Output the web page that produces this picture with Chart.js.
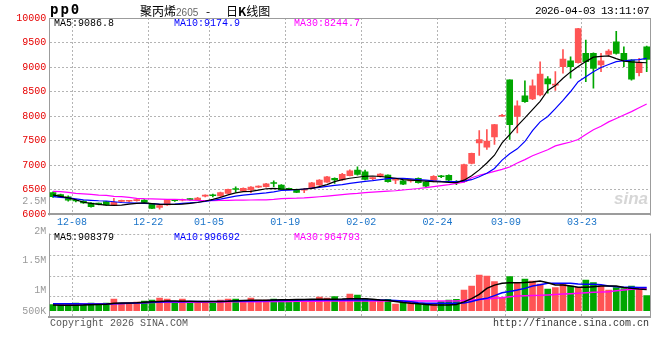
<!DOCTYPE html>
<html>
<head>
<meta charset="utf-8">
<script src="https://cdn.jsdelivr.net/npm/chart.js@4.4.1/dist/chart.umd.min.js"></script>
<style>
body { margin: 0; background: #fff; }
#wrap { position: relative; width: 660px; height: 360px; overflow: hidden; font-family: "Liberation Mono", monospace; font-size: 10px; }
#wrap canvas { position: absolute; left: 0; top: 0; }
.t { position: absolute; white-space: nowrap; line-height: 12px; }
</style>
</head>
<body>
<div id="wrap">
  <canvas id="volume" width="660" height="360"></canvas>
  <canvas id="price" width="660" height="360"></canvas>

  <div class="t" style="left:50px;top:2px;font:bold 14px 'DejaVu Sans Mono';letter-spacing:2px;line-height:14px">pp0</div>
  <div class="t" style="left:140px;top:4px;font-size:12px;line-height:13px;font-family:'Noto Sans CJK SC'">聚丙烯<span style="font:10px 'Liberation Sans';color:#666">2605</span></div>
  <div class="t" style="left:206px;top:4px;font-size:12px;line-height:13px;font-family:'Noto Sans CJK SC'">-</div>
  <div class="t" style="left:226px;top:4px;font-size:12px;line-height:13px;font-family:'Noto Sans CJK SC'">日<b>K</b>线图</div>
  <div class="t" style="left:535px;top:5px;font-size:11px;letter-spacing:-0.6px">2026-04-03 13:11:07</div>

  <div class="t" style="left:54px;top:18px;color:#000">MA5:9086.8</div>
  <div class="t" style="left:174px;top:18px;color:#0000ff">MA10:9174.9</div>
  <div class="t" style="left:294px;top:18px;color:#ff00ff">MA30:8244.7</div>

  <div class="t" style="left:54px;top:232px;color:#000">MA5:908379</div>
  <div class="t" style="left:174px;top:232px;color:#0000ff">MA10:996692</div>
  <div class="t" style="left:294px;top:232px;color:#ff00ff">MA30:964793</div>

  <div class="t" style="left:614px;top:190px;font:italic bold 17px 'Liberation Sans';color:#d6d6d6;line-height:17px">sina</div>

  <div class="t" style="left:50px;top:318px;color:#555">Copyright 2026 SINA.COM</div>
  <div class="t" style="left:493px;top:318px;color:#333">http://finance.sina.com.cn</div>
</div>

<script>
// trading days shown on the chart
const dates = [
  '12-03','12-04','12-05','12-08','12-09','12-10','12-11','12-12','12-15','12-16',
  '12-17','12-18','12-19','12-22','12-23','12-24','12-25','12-26','12-29','12-30',
  '12-31','01-05','01-06','01-07','01-08','01-09','01-12','01-13','01-14','01-15',
  '01-16','01-19','01-20','01-21','01-22','01-23','01-26','01-27','01-28','01-29',
  '01-30','02-02','02-03','02-04','02-05','02-06','02-09','02-10','02-11','02-12',
  '02-13','02-24','02-25','02-26','02-27','03-02','03-03','03-04','03-05','03-06',
  '03-09','03-10','03-11','03-12','03-13','03-16','03-17','03-18','03-19','03-20',
  '03-23','03-24','03-25','03-26','03-27','03-30','03-31','04-01','04-02'
];
// days that get a label and a grid line
const tickDays = ['12-08', '12-22', '01-05', '01-19', '02-02', '02-24', '03-09', '03-23'];

const open = [
  6435,6395,6350,6272,6266,6225,6205,6252,6178,6258,
  6260,6272,6286,6211,6136,6185,6280,6280,6300,6290,
  6365,6380,6367,6421,6510,6470,6489,6550,6557,6630,
  6590,6523,6503,6485,6523,6591,6652,6727,6693,6781,
  6896,6863,6722,6760,6795,6690,6679,6675,6727,6652,
  6665,6765,6790,6650,6660,7030,7453,7365,7574,7995,
  8736,7993,8412,8351,8432,8757,8630,9007,9128,9088,
  9277,9277,9040,9257,9514,9277,9142,8885,9412
];
const high = [
  6450,6405,6370,6300,6272,6235,6225,6260,6320,6285,
  6280,6300,6295,6220,6175,6300,6300,6305,6315,6340,
  6390,6405,6445,6510,6556,6535,6560,6575,6625,6679,
  6600,6530,6510,6523,6645,6700,6770,6740,6830,6900,
  6964,6896,6745,6825,6800,6706,6690,6700,6740,6660,
  6785,6790,6800,6680,7020,7245,7703,7723,7830,8035,
  8740,8310,8716,8736,9108,8804,8905,9358,9210,9790,
  9547,9290,9277,9358,9730,9412,9150,9176,9426
];
const low = [
  6340,6340,6260,6245,6215,6140,6185,6175,6170,6245,
  6246,6260,6225,6110,6100,6175,6255,6265,6280,6280,
  6350,6350,6360,6415,6445,6460,6435,6535,6550,6557,
  6480,6495,6435,6435,6515,6585,6645,6625,6685,6775,
  6795,6693,6700,6750,6650,6618,6600,6650,6630,6550,
  6655,6740,6650,6600,6645,7020,7196,7318,7419,7990,
  7520,7655,8277,8331,8412,8466,8520,8872,8770,9080,
  8703,8568,8905,9223,9260,9007,8730,8818,8905
];
const close = [
  6355,6350,6280,6266,6225,6150,6200,6184,6240,6266,
  6268,6280,6235,6116,6170,6290,6272,6286,6293,6327,
  6372,6372,6435,6502,6500,6525,6549,6557,6618,6622,
  6489,6503,6441,6492,6638,6693,6760,6693,6808,6883,
  6808,6706,6727,6815,6659,6693,6611,6679,6638,6570,
  6770,6760,6690,6640,7010,7236,7520,7486,7824,8010,
  7824,8209,8290,8615,8858,8655,8640,9162,9007,9784,
  9108,8973,9128,9324,9277,9142,8750,9088,9155
];
const ma5 = [
  6390,6360,6330,6290,6240,6215,6195,6180,6176,6180,
  6200,6215,6225,6210,6196,6196,6196,6200,6215,6235,
  6265,6300,6340,6390,6430,6455,6460,6489,6515,6523,
  6510,6503,6500,6510,6523,6560,6600,6660,6700,6730,
  6750,6770,6775,6765,6750,6730,6700,6690,6680,6670,
  6660,6655,6645,6640,6690,6780,6900,7040,7200,7450,
  7620,7800,7960,8130,8300,8520,8620,8770,8900,9010,
  9110,9200,9215,9225,9170,9120,9105,9095,9087
];
const ma10 = [
  6355,6340,6330,6310,6290,6280,6270,6265,6250,6235,
  6228,6220,6215,6210,6200,6196,6200,6215,6228,6240,
  6255,6280,6305,6335,6365,6387,6400,6415,6430,6450,
  6480,6489,6495,6510,6530,6545,6565,6585,6600,6625,
  6645,6665,6680,6700,6720,6727,6727,6715,6700,6690,
  6675,6665,6660,6660,6670,6700,6760,6830,6930,7100,
  7230,7330,7480,7700,7880,7990,8150,8320,8500,8700,
  8800,8905,8990,9050,9110,9128,9140,9150,9175
];
const ma30 = [
  6462,6455,6440,6420,6410,6400,6385,6380,6360,6353,
  6340,6320,6312,6310,6305,6300,6299,6295,6285,6275,
  6271,6271,6275,6280,6283,6285,6286,6288,6290,6300,
  6315,6320,6322,6328,6340,6352,6365,6380,6395,6410,
  6420,6435,6445,6455,6465,6475,6490,6505,6520,6540,
  6560,6580,6600,6625,6650,6740,6790,6830,6870,6910,
  6960,7040,7110,7190,7250,7310,7390,7430,7470,7520,
  7620,7720,7790,7880,7950,8020,8090,8170,8245
];

// volume, in thousands of lots
const volume = [
  259,259,259,331,259,331,259,331,503,288,
  288,374,417,460,546,503,345,503,331,345,
  331,317,460,503,503,403,546,460,460,503,
  460,403,403,403,460,589,546,602,489,718,
  675,516,460,460,489,288,388,388,288,317,
  317,388,460,489,890,1062,1535,1492,1248,560,
  1463,1177,1363,1277,1148,933,990,1177,1062,1005,
  1320,1205,1062,890,990,947,1062,919,646
];
const volMa5 = [
  240,235,232,235,240,260,270,280,320,330,
  335,340,360,380,400,420,420,410,405,400,
  400,400,400,410,430,440,450,450,450,460,
  470,475,480,485,490,490,490,495,500,516,
  516,510,490,460,440,400,350,317,300,270,
  245,245,250,270,380,520,700,962,1100,1177,
  1200,1205,1210,1230,1277,1200,1105,1100,1060,1005,
  1005,1030,1062,1062,1060,1000,960,930,908
];
const volMa10 = [
  300,300,300,295,290,285,285,285,300,310,
  320,330,345,360,370,380,385,390,395,400,
  400,400,400,405,410,415,420,425,430,435,
  440,445,450,455,460,465,460,460,460,460,
  460,460,460,455,450,440,420,380,340,320,
  317,317,317,320,330,400,480,531,650,774,
  830,890,960,1062,1120,1177,1177,1177,1177,1150,
  1134,1134,1120,1060,1030,1010,1005,1000,997
];
const volMa30 = [
  290,288,288,288,288,288,288,288,300,310,
  320,330,340,355,360,360,360,360,360,360,
  365,370,375,380,385,388,388,390,392,395,
  398,400,402,405,408,410,412,415,417,417,
  417,417,417,417,417,417,417,417,417,417,
  417,417,417,420,440,460,480,500,531,560,
  600,631,640,650,660,680,700,717,730,750,
  774,790,800,820,860,890,920,945,965
];
// gray volume labels on the left (thousands)
const volLabelValues = [2500, 2000, 1500, 1000, 500];
const volLabelText = ['2.5M', '2M', '1.5M', '1M', '500K'];

// ---- layout / style ----
const PLOT_LEFT = 49.2;
const PAD_RIGHT = 9.5;
const PRICE_TOP = 18, PRICE_BOTTOM = 214;
const VOL_AREA_TOP = 190, VOL_BOTTOM = 317;
const VOL_ROWS = [83, 62, 41, 20.5];      // dotted rows of the volume panel, px above its bottom
const LABEL_FLOOR = 651;                 // lowest label is kept inside the panel
const UP = '#ff5454', DOWN = '#00a600';
const GRID = '#b4b4b4', AXIS = '#9c9c9c';

Chart.defaults.font.family = "'Liberation Mono', monospace";
Chart.defaults.font.size = 10;
Chart.defaults.animation = false;

const candleColor = close.map((c, i) => c >= open[i] ? UP : DOWN);
const xTickValues = tickDays.map(d => dates.indexOf(d) - 0.5);
const xMax = dates.length - 0.5;
const pts = arr => arr.map((v, i) => ({ x: i, y: v }));

function dateAxis(extra) {
  return Object.assign({
    type: 'linear', min: -0.5, max: xMax, offset: false,
    afterBuildTicks: s => { s.ticks = xTickValues.map(v => ({ value: v })); },
    grid: { color: GRID, drawTicks: false, offset: false },
    border: { color: AXIS, width: 2, dash: [2, 2] }
  }, extra);
}
function edgeAxis(position, vertical) {
  return {
    position: position, display: true,
    ticks: { display: false },
    grid: { display: false, drawTicks: false },
    border: { color: AXIS, width: 1 },
    afterFit: s => { if (vertical) s.width = 0; else s.height = 0; }
  };
}
function maLine(data, color, axis, width) {
  return {
    type: 'line', data: pts(data), yAxisID: axis,
    borderColor: color, borderWidth: width, pointRadius: 0, tension: 0, order: 1
  };
}

// white strip between the two panels, under the date labels
const gapStrip = {
  id: 'gapStrip',
  beforeDraw(chart) {
    const ctx = chart.ctx;
    ctx.save();
    ctx.fillStyle = '#fff';
    ctx.fillRect(46.5, chart.chartArea.bottom + 1.5, 612, 18);
    ctx.restore();
  }
};

// ---- price panel ----
new Chart(document.getElementById('price'), {
  type: 'bar',
  data: {
    datasets: [
      maLine(ma5, '#000000', 'y', 1.2),
      maLine(ma10, '#0000ff', 'y', 1.2),
      maLine(ma30, '#ff00ff', 'y', 1.2),
      {
        label: 'body', data: dates.map((d, i) => ({ x: i, y: [open[i], close[i]] })),
        backgroundColor: candleColor, barThickness: 6, minBarLength: 1, grouped: false, order: 2
      },
      {
        label: 'wick', data: dates.map((d, i) => ({ x: i, y: [low[i], high[i]] })),
        backgroundColor: candleColor, barThickness: 1, grouped: false, order: 3
      }
    ]
  },
  options: {
    responsive: false,
    devicePixelRatio: 1,
    events: [],
    layout: { padding: { top: PRICE_TOP, right: PAD_RIGHT, bottom: 0, left: 0 } },
    plugins: { legend: { display: false }, tooltip: { enabled: false } },
    scales: {
      x: dateAxis({
        afterFit: s => { s.height = 360 - PRICE_BOTTOM; },
        ticks: { color: '#1b74c9', padding: 2, maxRotation: 0, autoSkip: false, callback: v => dates[v + 0.5] }
      }),
      top: Object.assign(edgeAxis('top', false), { type: 'linear', min: -0.5, max: xMax }),
      y: {
        min: 6000, max: 10000,
        ticks: { stepSize: 500, color: '#e60000', padding: 3, callback: v => String(v) },
        afterFit: s => { s.width = PLOT_LEFT; },
        grid: { color: GRID, drawTicks: false },
        border: { color: AXIS, width: 1, dash: [2, 2] }
      },
      right: edgeAxis('right', true)
    }
  },
  plugins: [gapStrip]
});

// ---- volume panel ----
new Chart(document.getElementById('volume'), {
  type: 'bar',
  data: {
    datasets: [
      maLine(volMa5, '#000000', 'vol', 1.5),
      maLine(volMa10, '#0000ff', 'vol', 1.5),
      maLine(volMa30, '#ff00ff', 'vol', 1.5),
      {
        label: 'volume', data: pts(volume), yAxisID: 'vol',
        backgroundColor: candleColor, barThickness: 6, grouped: false, order: 2
      }
    ]
  },
  options: {
    responsive: false,
    devicePixelRatio: 1,
    events: [],
    layout: { padding: { top: VOL_AREA_TOP, right: PAD_RIGHT, bottom: 360 - VOL_BOTTOM, left: 0 } },
    plugins: { legend: { display: false }, tooltip: { enabled: false } },
    scales: {
      x: dateAxis({
        ticks: { display: false },
        afterFit: s => { s.height = 0; }
      }),
      y: {
        position: 'left', min: 549.7, max: 2691,
        afterBuildTicks: s => { s.ticks = volLabelValues.map(v => ({ value: Math.max(v, LABEL_FLOOR) })); },
        ticks: { color: '#9a9a9a', padding: 3, callback: (v, i) => volLabelText[i] },
        afterFit: s => { s.width = PLOT_LEFT; },
        grid: { display: false, drawTicks: false },
        border: { color: AXIS, width: 1 }
      },
      vol: { display: false, min: -271, max: 5190 },
      rows: {
        position: 'right', min: 0, max: VOL_BOTTOM - VOL_AREA_TOP,
        afterBuildTicks: s => { s.ticks = VOL_ROWS.map(v => ({ value: v })); },
        ticks: { display: false },
        grid: { color: GRID, drawTicks: false },
        border: { color: AXIS, width: 1, dash: [2, 2] },
        afterFit: s => { s.width = 0; }
      }
    }
  }
});
</script>
</body>
</html>
